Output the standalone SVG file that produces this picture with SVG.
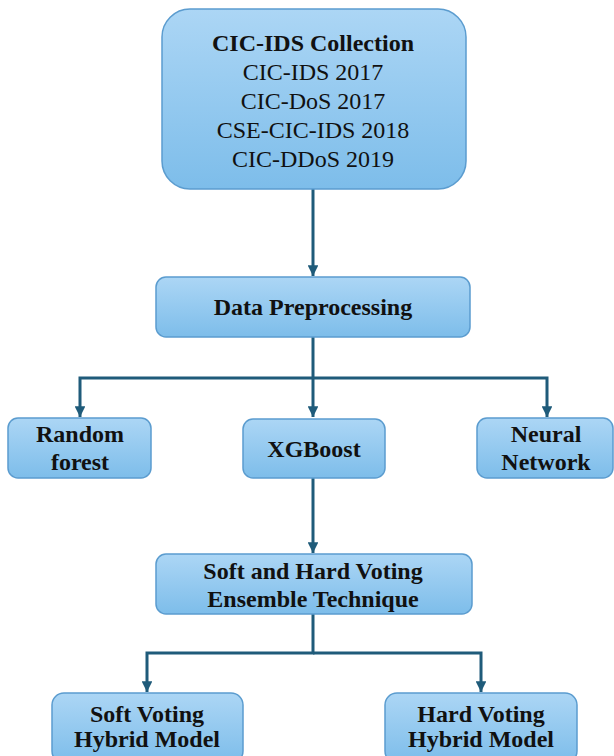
<svg xmlns="http://www.w3.org/2000/svg" width="614" height="756" viewBox="0 0 614 756">
<defs>
<linearGradient id="g" x1="0" y1="0" x2="0" y2="1">
<stop offset="0" stop-color="#acd6f5"/>
<stop offset="1" stop-color="#7dbdea"/>
</linearGradient>
<marker id="arr" viewBox="0 0 10 10" refX="10" refY="5" markerWidth="3.6" markerHeight="3.6" markerUnits="strokeWidth" orient="auto">
<path d="M0,0 L10,5 L0,10 Z" fill="#1f5b7a"/>
</marker>
<style>
.box{fill:url(#g);stroke:#5b9ccf;stroke-width:1.5}
.t{font-family:'Liberation Serif','Times New Roman',Times,'DejaVu Serif',serif;font-size:24px;fill:#111;text-anchor:middle}
.b{font-weight:bold}
.c{fill:none;stroke:#1f5b7a;stroke-width:3}
</style>
</defs>
<rect width="614" height="756" fill="#fff"/>
<g id="connectors">
<path class="c" d="M313,189 V276" marker-end="url(#arr)"/>
<path class="c" d="M313,337 V417" marker-end="url(#arr)"/>
<path class="c" d="M313,378 H80 V417" marker-end="url(#arr)"/>
<path class="c" d="M313,378 H547 V417" marker-end="url(#arr)"/>
<path class="c" d="M313,478 V553" marker-end="url(#arr)"/>
<path class="c" d="M313,614 V653 H147 V692" marker-end="url(#arr)"/>
<path class="c" d="M313,653 H481 V692" marker-end="url(#arr)"/>
</g>
<g id="cic">
<rect class="box" x="162" y="9" width="304" height="180" rx="28"/>
<text class="t b" x="313" y="51" font-family="Liberation Serif, serif">CIC-IDS Collection</text>
<text class="t" x="313" y="80" font-family="Liberation Serif, serif">CIC-IDS 2017</text>
<text class="t" x="313" y="109" font-family="Liberation Serif, serif">CIC-DoS 2017</text>
<text class="t" x="313" y="138" font-family="Liberation Serif, serif">CSE-CIC-IDS 2018</text>
<text class="t" x="313" y="167" font-family="Liberation Serif, serif">CIC-DDoS 2019</text>
</g>
<g id="prep">
<rect class="box" x="156" y="277" width="314" height="60" rx="10"/>
<text class="t b" x="313" y="315">Data Preprocessing</text>
</g>
<g id="rf">
<rect class="box" x="8" y="418" width="143" height="60" rx="10"/>
<text class="t b" x="80" y="442">Random</text>
<text class="t b" x="80" y="470">forest</text>
</g>
<g id="xgb">
<rect class="box" x="243" y="419" width="142" height="59" rx="10"/>
<text class="t b" x="314" y="457">XGBoost</text>
</g>
<g id="nn">
<rect class="box" x="477" y="418" width="136" height="60" rx="10"/>
<text class="t b" x="546" y="442">Neural</text>
<text class="t b" x="546" y="470">Network</text>
</g>
<g id="ens">
<rect class="box" x="156" y="554" width="316" height="60" rx="10"/>
<text class="t b" x="313" y="579">Soft and Hard Voting</text>
<text class="t b" x="313" y="607">Ensemble Technique</text>
</g>
<g id="soft">
<rect class="box" x="52" y="693" width="191" height="70" rx="12"/>
<text class="t b" x="147" y="722">Soft Voting</text>
<text class="t b" x="147" y="747">Hybrid Model</text>
</g>
<g id="hard">
<rect class="box" x="385" y="693" width="192" height="70" rx="12"/>
<text class="t b" x="481" y="722">Hard Voting</text>
<text class="t b" x="481" y="747">Hybrid Model</text>
</g>
</svg>
